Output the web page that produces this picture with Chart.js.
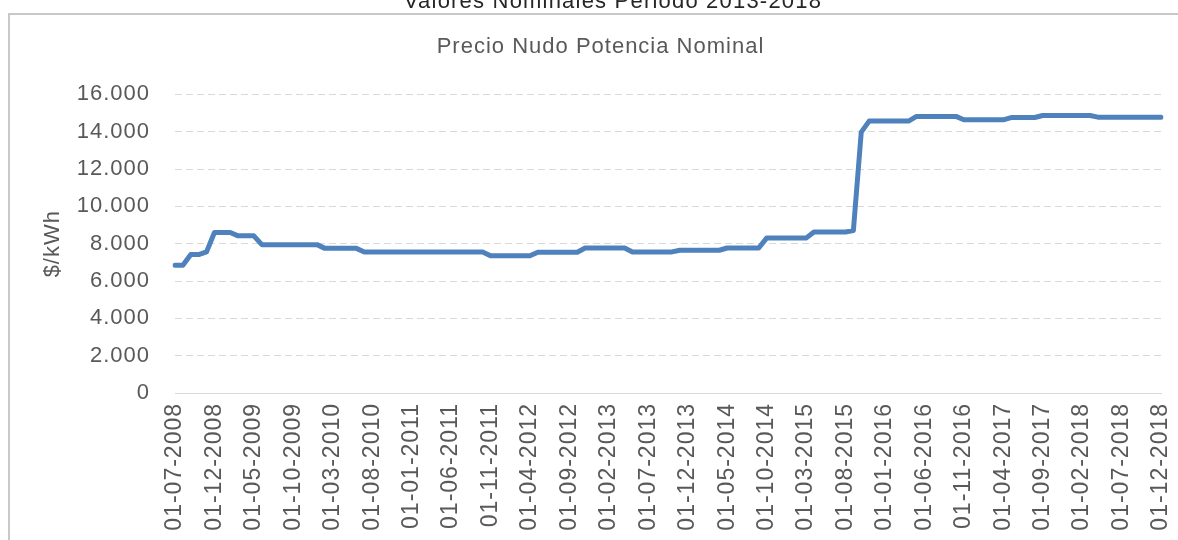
<!DOCTYPE html>
<html><head><meta charset="utf-8">
<script src="https://cdn.jsdelivr.net/npm/chart.js@4"></script>
<style>
html,body{margin:0;padding:0;background:#fff;overflow:hidden;width:1178px;height:540px;}
#box{position:absolute;left:8px;top:13px;width:1300px;height:700px;border:2px solid #c8c8c8;box-sizing:border-box;}
#c{position:absolute;left:0;top:0;width:1204px;height:540px;}
</style></head><body>
<div id="box"></div>
<canvas id="c" width="1204" height="540"></canvas>
<script>
const outerTitle = 'Valores Nominales Periodo 2013-2018';
const chartTitle = 'Precio Nudo Potencia Nominal';
const yAxisTitle = '$/kWh';

const categories = [
 '01-07-2008','01-08-2008','01-09-2008','01-10-2008','01-11-2008','01-12-2008',
 '01-01-2009','01-02-2009','01-03-2009','01-04-2009','01-05-2009','01-06-2009','01-07-2009','01-08-2009','01-09-2009','01-10-2009','01-11-2009','01-12-2009',
 '01-01-2010','01-02-2010','01-03-2010','01-04-2010','01-05-2010','01-06-2010','01-07-2010','01-08-2010','01-09-2010','01-10-2010','01-11-2010','01-12-2010',
 '01-01-2011','01-02-2011','01-03-2011','01-04-2011','01-05-2011','01-06-2011','01-07-2011','01-08-2011','01-09-2011','01-10-2011','01-11-2011','01-12-2011',
 '01-01-2012','01-02-2012','01-03-2012','01-04-2012','01-05-2012','01-06-2012','01-07-2012','01-08-2012','01-09-2012','01-10-2012','01-11-2012','01-12-2012',
 '01-01-2013','01-02-2013','01-03-2013','01-04-2013','01-05-2013','01-06-2013','01-07-2013','01-08-2013','01-09-2013','01-10-2013','01-11-2013','01-12-2013',
 '01-01-2014','01-02-2014','01-03-2014','01-04-2014','01-05-2014','01-06-2014','01-07-2014','01-08-2014','01-09-2014','01-10-2014','01-11-2014','01-12-2014',
 '01-01-2015','01-02-2015','01-03-2015','01-04-2015','01-05-2015','01-06-2015','01-07-2015','01-08-2015','01-09-2015','01-10-2015','01-11-2015','01-12-2015',
 '01-01-2016','01-02-2016','01-03-2016','01-04-2016','01-05-2016','01-06-2016','01-07-2016','01-08-2016','01-09-2016','01-10-2016','01-11-2016','01-12-2016',
 '01-01-2017','01-02-2017','01-03-2017','01-04-2017','01-05-2017','01-06-2017','01-07-2017','01-08-2017','01-09-2017','01-10-2017','01-11-2017','01-12-2017',
 '01-01-2018','01-02-2018','01-03-2018','01-04-2018','01-05-2018','01-06-2018','01-07-2018','01-08-2018','01-09-2018','01-10-2018','01-11-2018','01-12-2018'
];

const precioNudo = [
 6850,6850,7420,7420,7560,8600,
 8600,8600,8420,8420,8420,7950,7950,7950,7950,7950,7950,7950,
 7950,7750,7750,7750,7750,7750,7560,7560,7560,7560,7560,7560,
 7560,7560,7560,7560,7560,7560,7560,7560,7560,7560,7350,7350,
 7350,7350,7350,7350,7540,7540,7540,7540,7540,7540,7770,7770,
 7770,7770,7770,7770,7560,7560,7560,7560,7560,7560,7650,7650,
 7650,7650,7650,7650,7770,7770,7770,7770,7770,8300,8300,8300,
 8300,8300,8300,8630,8630,8630,8630,8630,8700,13980,14570,14570,
 14570,14570,14570,14570,14820,14820,14820,14820,14820,14820,14640,14640,
 14640,14640,14640,14640,14760,14760,14760,14760,14870,14870,14870,14870,
 14870,14870,14870,14780,14780,14780,14780,14780,14780,14780,14780,14780
];

const yTicks = {min: 0, max: 16000, step: 2000};
const labelEvery = 5;

const FONT = '"Liberation Sans", Arial, Helvetica, sans-serif';
const LS = '1px';
const fmt = v => String(v).replace(/\B(?=(\d{3})+(?!\d))/g, '.');

const textPlugin = {
  id: 'textStyle',
  beforeInit(chart){ chart.ctx.letterSpacing = LS; },
  beforeUpdate(chart){ chart.ctx.letterSpacing = LS; },
  beforeLayout(chart){ chart.ctx.letterSpacing = LS; },
  beforeDraw(chart){ chart.ctx.letterSpacing = LS; },
  afterDraw(chart){
    const ctx = chart.ctx;
    ctx.save();
    ctx.letterSpacing = '1.2px';
    ctx.font = '22px ' + FONT;
    ctx.fillStyle = '#262626';
    ctx.textAlign = 'center';
    ctx.textBaseline = 'alphabetic';
    ctx.fillText(outerTitle, 613, 8);
    ctx.restore();
  }
};

Chart.defaults.font.family = FONT;
Chart.defaults.font.size = 22;
Chart.defaults.color = '#595959';

new Chart(document.getElementById('c'), {
  type: 'line',
  data: {
    labels: categories,
    datasets: [{
      data: precioNudo,
      borderColor: '#4f81bd',
      borderWidth: 5,
      pointRadius: 0,
      tension: 0,
      fill: false,
      borderCapStyle: 'round',
      borderJoinStyle: 'round'
    }]
  },
  options: {
    responsive: false,
    animation: false,
    devicePixelRatio: 1,
    layout: {padding: {left: 40, right: 43, top: 0, bottom: 0}},
    plugins: {
      legend: {display: false},
      tooltip: {enabled: false},
      title: {display: true, text: chartTitle, color: '#595959',
              font: {size: 22, weight: 'normal'}, padding: {top: 34, bottom: 34}}
    },
    scales: {
      x: {
        type: 'category',
        offset: false,
        grid: {display: false, drawTicks: false},
        border: {display: true, color: '#d9d9d9', width: 1},
        ticks: {
          autoSkip: false, maxRotation: 90, minRotation: 90, padding: 10,
          color: '#595959', font: {size: 23},
          callback: (v, i) => (i % labelEvery === 0 ? categories[i] : null)
        },
        afterFit: s => { s.height = 147; }
      },
      y: {
        min: yTicks.min, max: yTicks.max,
        grid: {color: '#d9d9d9', lineWidth: 1, drawTicks: false},
        border: {display: false, dash: [7, 4]},
        ticks: {stepSize: yTicks.step, padding: 25, color: '#595959', font: {size: 22}, callback: v => fmt(v)},
        title: {display: true, text: yAxisTitle, color: '#595959', font: {size: 22}, padding: 0},
        afterFit: s => { s.width = 135; }
      }
    }
  },
  plugins: [textPlugin]
});
</script></body></html>
